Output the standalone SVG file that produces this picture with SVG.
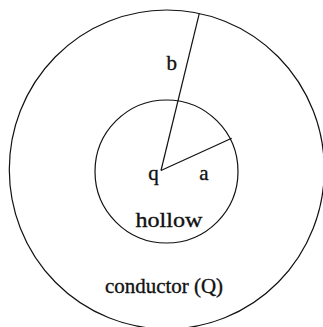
<svg xmlns="http://www.w3.org/2000/svg" width="323" height="327" viewBox="0 0 323 327">
<style>
.c{fill:none;stroke:#111;stroke-width:1.2}
.t{font-family:"Liberation Serif","Times New Roman",serif;fill:#111;stroke:#111;stroke-width:0.35;text-anchor:middle}
</style>
<rect width="323" height="327" fill="#fff"/>
<g id="conductor">
<ellipse class="c" cx="166.8" cy="169.5" rx="157.5" ry="159.5"/>
<text class="t" x="164" y="293" font-size="21" textLength="118" lengthAdjust="spacingAndGlyphs">conductor (Q)</text>
</g>
<g id="hollow">
<circle class="c" cx="166.5" cy="171.5" r="71.5"/>
<text class="t" x="169" y="227" font-size="22" textLength="67" lengthAdjust="spacingAndGlyphs">hollow</text>
</g>
<g id="charge">
<text class="t" x="153.5" y="180" font-size="21">q</text>
</g>
<g id="connectors">
<line class="c" x1="161" y1="170.5" x2="199.3" y2="13.3"/>
<line class="c" x1="161" y1="170.5" x2="231.7" y2="138.3"/>
</g>
<g id="labels">
<text class="t" x="171.7" y="70" font-size="21">b</text>
<text class="t" x="204" y="180" font-size="21">a</text>
</g>
</svg>
